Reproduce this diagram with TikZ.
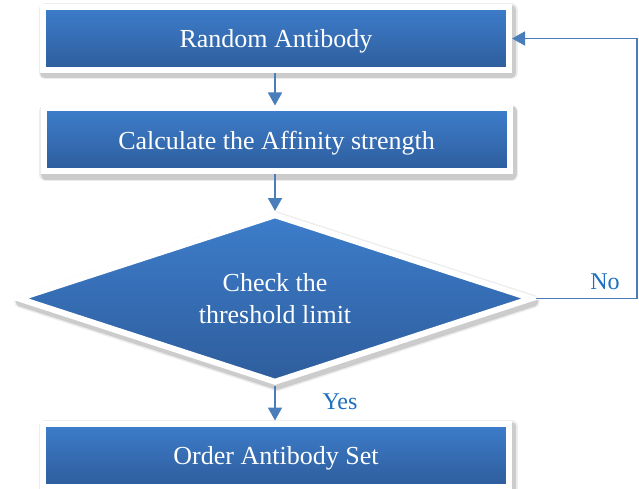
\documentclass[tikz,border=0pt]{standalone}
\usepackage{fontspec}
\setmainfont{Liberation Serif}
\usetikzlibrary{shapes.geometric,arrows.meta}

\definecolor{boxtop}{HTML}{3D7DCB}
\definecolor{boxbot}{HTML}{2E5D9C}
\definecolor{flowline}{HTML}{4A7EBB}
\definecolor{labelblue}{HTML}{1A6FC0}

\begin{document}
\begin{tikzpicture}[x=1pt,y=-1pt,
    soft shade/.style={
        preaction={draw=black, opacity=0.07, line width=13pt, line join=round, transform canvas={xshift=2pt,yshift=-3pt}},
        preaction={draw=black, opacity=0.14, line width=10pt, line join=round, transform canvas={xshift=2pt,yshift=-3pt}}},
    stepbox/.style={rectangle, soft shade, draw=white, line width=6pt, top color=boxtop, bottom color=boxbot,
        minimum width=466pt, minimum height=63pt, inner sep=0pt, text=white, text depth=0pt,
        font=\fontsize{26}{30}\selectfont},
    checkbox/.style={diamond, soft shade, draw=white, line width=6pt, top color=boxtop, bottom color=boxbot,
        minimum width=515pt, minimum height=169pt, aspect=3, inner sep=0pt, text=white,
        align=center, font=\fontsize{26}{32}\selectfont},
    flow/.style={draw=flowline, line width=1.8pt, -{Triangle[width=14pt,length=13pt]}},
    answer/.style={text=labelblue, font=\fontsize{24}{28}\selectfont}]
    \useasboundingbox (0,0) rectangle (639,489);

    % Boxes
    \node[stepbox] (rand) at (276,38.5) {Random Antibody};
    \node[stepbox] (aff) at (276.5,140) {Calculate the Affinity strength};
    \node[checkbox] (chk) at (275,298.5) {Check the\\threshold limit};
    \node[stepbox] (order) at (276,455) {Order Antibody Set};

    % Arrows
    \draw[flow] (rand.south -| 275,0) -- (aff.north -| 275,0);
    \draw[flow] (aff.south -| 275,0) -- (chk.north);
    \draw[flow] (chk.south) -- (order.north -| 275,0);

    % Feedback loop
    \coordinate (fb) at (637,298.5);
    \draw[flow] (chk.east) -- (fb) |- (rand.east);

    \node[answer] (no) at (605,282) {No};
    \node[answer] (yes) at (340,402) {Yes};
\end{tikzpicture}
\end{document}
